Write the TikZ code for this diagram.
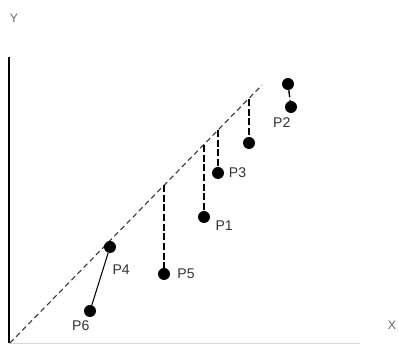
\documentclass[tikz,border=0pt]{standalone}
\usepackage{fontspec}
\setmainfont{Liberation Sans}
\usepackage{tikz}
\usetikzlibrary{positioning}
\definecolor{axisgray}{HTML}{D8D8D8}

\begin{document}
\begin{tikzpicture}[
    dataPoint/.style={circle, fill=black, inner sep=0pt, minimum size=0.24cm},
    ptLabel/.style={font=\fontsize{8}{9}\selectfont, inner sep=1pt, text=black!80},
    axisLabel/.style={font=\fontsize{7}{8}\selectfont, text=black!60},
    errLine/.style={dash pattern=on 4pt off 1.5pt, thick},
    fitLine/.style={dash pattern=on 3pt off 2pt, semithick, black!80}
]
    \useasboundingbox (0,0) rectangle (7.96,6.9);

    % axes
    \coordinate (origin) at (0.18,0.04);
    \coordinate (yTop) at (0.18,5.76);
    \coordinate (xEnd) at (7.2,0.04);
    \draw[semithick] (origin) -- (yTop);
    \draw[axisgray] (origin) -- (xEnd);
    \node[axisLabel] (yLab) at (0.28,6.54) {Y};
    \node[axisLabel] (xLab) at (7.84,0.4) {X};

    % fitted line
    \coordinate (fitStart) at (0.2,0.04);
    \coordinate (fitEnd) at (5.24,5.2);
    \draw[fitLine] (fitStart) -- (fitEnd);

    % data points
    \node[dataPoint] (p2a) at (5.76,5.22) {};
    \node[dataPoint] (p2b) at (5.82,4.76) {};
    \node[dataPoint] (q) at (4.98,4.04) {};
    \node[dataPoint] (p3) at (4.36,3.44) {};
    \node[dataPoint] (p1) at (4.08,2.56) {};
    \node[dataPoint] (p5) at (3.28,1.42) {};
    \node[dataPoint] (p4) at (2.2,1.96) {};
    \node[dataPoint] (p6) at (1.8,0.68) {};

    % feet on the fitted line
    \coordinate (qFoot) at (4.98,4.92);
    \coordinate (p3Foot) at (4.36,4.3);
    \coordinate (p1Foot) at (4.08,4.0);
    \coordinate (p5Foot) at (3.28,3.2);

    \draw[errLine] (p2a) -- (p2b);
    \draw[errLine] (qFoot) -- (q);
    \draw[errLine] (p3Foot) -- (p3);
    \draw[errLine] (p1Foot) -- (p1);
    \draw[errLine] (p5Foot) -- (p5);
    \draw[semithick] (p4) -- (p6);

    % labels
    \node[ptLabel, below left=0.08cm and -0.12cm of p2b] (p2Lab) {P2};
    \node[ptLabel, right=0.05cm of p3] (p3Lab) {P3};
    \node[ptLabel, below right=-0.05cm and 0.1cm of p1] (p1Lab) {P1};
    \node[ptLabel, right=0.1cm of p5] (p5Lab) {P5};
    \node[ptLabel, below right=0.22cm and -0.08cm of p4] (p4Lab) {P4};
    \node[ptLabel, below left=0.06cm and -0.12cm of p6] (p6Lab) {P6};
\end{tikzpicture}
\end{document}
